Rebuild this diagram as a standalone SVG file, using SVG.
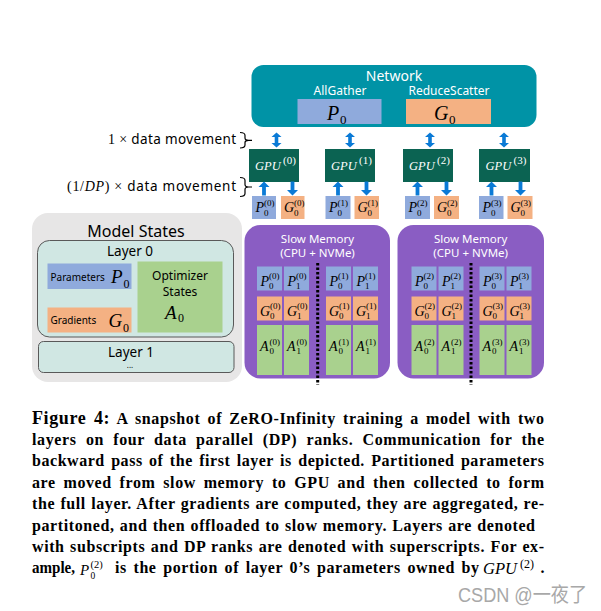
<svg xmlns="http://www.w3.org/2000/svg" xmlns:xlink="http://www.w3.org/1999/xlink" width="601" height="611" viewBox="0 0 601 611">
<style>
.sans{font-family:"Noto Sans","Open Sans",sans-serif}
.it{font-family:"Liberation Serif",serif;font-style:italic}
.ser{font-family:"Liberation Serif",serif}
.w{fill:#fff}
.pb{fill:#8FAADC}
.gs{fill:#F4B183}
.ga{fill:#A9D18E}
.gpu{fill:#0B6352}
.cl{font-size:14px}
.ss{font-size:9px}
.cap{font-family:"Liberation Serif",serif;font-weight:bold;font-size:16px;fill:#000}
.arr{fill:#0A7AD6}
.layer{fill:#D0E7E3;stroke:#595959;stroke-width:1}
.slow{fill:#8A5DC3}
.div{stroke:#000;stroke-width:3;stroke-dasharray:2.5 2}
</style>
<defs>
<path id="dbl" d="M0,-7.5 L5,-3 L1.8,-3 L1.8,3 L5,3 L0,7.5 L-5,3 L-1.8,3 L-1.8,-3 L-5,-3 Z"/>
<path id="up" d="M0,-7 L5.5,-1.5 L1.9,-1.5 L1.9,7 L-1.9,7 L-1.9,-1.5 L-5.5,-1.5 Z"/>
<path id="down" d="M0,7 L5.5,1.5 L1.9,1.5 L1.9,-7 L-1.9,-7 L-1.9,1.5 L-5.5,1.5 Z"/>
</defs>
<rect width="601" height="611" fill="#fff"/>

<g id="network">
<rect x="251.5" y="65" width="285" height="62" rx="12" fill="#0093A6"/>
<text class="sans w" x="394" y="81" font-size="14" text-anchor="middle">Network</text>
<text class="sans w" x="340" y="95" font-size="12" text-anchor="middle">AllGather</text>
<text class="sans w" x="449" y="95" font-size="12" text-anchor="middle">ReduceScatter</text>
<rect class="pb" x="297.5" y="99" width="84" height="25"/>
<rect class="gs" x="406" y="99" width="85" height="25"/>
<text class="it" x="327" y="120" font-size="20">P</text><text class="ser" x="340" y="124" font-size="13">0</text>
<text class="it" x="434" y="120" font-size="20">G</text><text class="ser" x="449" y="124" font-size="13">0</text>
</g>

<g id="gpu0">
<rect class="gpu" x="249" y="149" width="50" height="33"/>
<text class="it w" x="255" y="169.5" font-size="12.5">GPU</text><text class="ser w" x="283" y="164" font-size="11">(0)</text>
</g>
<g id="gpu1">
<rect class="gpu" x="325" y="149" width="50" height="33"/>
<text class="it w" x="331" y="169.5" font-size="12.5">GPU</text><text class="ser w" x="359" y="164" font-size="11">(1)</text>
</g>
<g id="gpu2">
<rect class="gpu" x="403" y="149" width="50" height="33"/>
<text class="it w" x="409" y="169.5" font-size="12.5">GPU</text><text class="ser w" x="437" y="164" font-size="11">(2)</text>
</g>
<g id="gpu3">
<rect class="gpu" x="479" y="149" width="51" height="33"/>
<text class="it w" x="485.5" y="169.5" font-size="12.5">GPU</text><text class="ser w" x="513.5" y="164" font-size="11">(3)</text>
</g>

<g id="gpu-shards">
<rect class="pb" x="252" y="196" width="24" height="23"/>
<text class="it cl" x="255.5" y="212">P</text><text class="ser ss" x="264" y="215.5">0</text><text class="ser ss" x="264" y="206">(0)</text>
<rect class="gs" x="281" y="196" width="23.5" height="23"/>
<text class="it cl" x="284" y="212">G</text><text class="ser ss" x="294" y="215.5">0</text><text class="ser ss" x="294" y="206">(0)</text>
<rect class="pb" x="325.5" y="196" width="25" height="23"/>
<text class="it cl" x="329" y="212">P</text><text class="ser ss" x="337.5" y="215.5">0</text><text class="ser ss" x="337.5" y="206">(1)</text>
<rect class="gs" x="354.5" y="196" width="24.5" height="23"/>
<text class="it cl" x="357.5" y="212">G</text><text class="ser ss" x="367.5" y="215.5">0</text><text class="ser ss" x="367.5" y="206">(1)</text>
<rect class="pb" x="405" y="196" width="25" height="23"/>
<text class="it cl" x="408.5" y="212">P</text><text class="ser ss" x="417" y="215.5">0</text><text class="ser ss" x="417" y="206">(2)</text>
<rect class="gs" x="434" y="196" width="25" height="23"/>
<text class="it cl" x="437" y="212">G</text><text class="ser ss" x="447" y="215.5">0</text><text class="ser ss" x="447" y="206">(2)</text>
<rect class="pb" x="479" y="196" width="24.5" height="23"/>
<text class="it cl" x="482.5" y="212">P</text><text class="ser ss" x="491" y="215.5">0</text><text class="ser ss" x="491" y="206">(3)</text>
<rect class="gs" x="507.5" y="196" width="25" height="23"/>
<text class="it cl" x="510.5" y="212">G</text><text class="ser ss" x="520.5" y="215.5">0</text><text class="ser ss" x="520.5" y="206">(3)</text>
</g>

<g id="model-states">
<rect x="32" y="213" width="210" height="169" rx="16" fill="#E7E6E6"/>
<text class="sans" x="136" y="237" font-size="16" text-anchor="middle">Model States</text>
<g id="layer0">
<rect class="layer" x="37.5" y="240.5" width="196" height="96.5" rx="12"/>
<text class="sans" x="130" y="256" font-size="13.5" text-anchor="middle">Layer 0</text>
<rect class="pb" x="47.5" y="263.5" width="84" height="25.5"/>
<text class="sans" x="50.5" y="281" font-size="10">Parameters</text>
<text class="it" x="111" y="283" font-size="19">P</text><text class="ser" x="123.5" y="288" font-size="12">0</text>
<rect class="gs" x="47.5" y="307.5" width="84" height="25"/>
<text class="sans" x="50.5" y="323.5" font-size="10">Gradients</text>
<text class="it" x="108.5" y="327" font-size="19">G</text><text class="ser" x="123" y="331.5" font-size="12">0</text>
<rect class="ga" x="137.5" y="261.5" width="85" height="71"/>
<text class="sans" x="180" y="280" font-size="12" text-anchor="middle">Optimizer</text>
<text class="sans" x="180" y="296" font-size="12" text-anchor="middle">States</text>
<text class="it" x="165" y="318.5" font-size="19">A</text><text class="ser" x="178" y="322" font-size="12">0</text>
</g>
<g id="layer1">
<rect class="layer" x="38.5" y="341.5" width="195.5" height="31" rx="5"/>
<text class="sans" x="131" y="356.5" font-size="13.5" text-anchor="middle">Layer 1</text>
<text class="sans" x="130" y="368" font-size="8" text-anchor="middle">...</text>
</g>
</g>

<g id="slow-memory-0-1">
<rect class="slow" x="244.5" y="225" width="145.5" height="153.5" rx="16"/>
<text class="sans w" x="317.5" y="242.5" font-size="11.5" text-anchor="middle">Slow Memory</text>
<text class="sans w" x="317.5" y="256.5" font-size="11.5" text-anchor="middle">(CPU + NVMe)</text>
<rect class="pb" x="257" y="266.5" width="25" height="24"/><rect class="pb" x="284" y="266.5" width="25" height="24"/>
<rect class="pb" x="326" y="266.5" width="25" height="24"/><rect class="pb" x="353" y="266.5" width="25" height="24"/>
<rect class="gs" x="257" y="296.5" width="25" height="24"/><rect class="gs" x="284" y="296.5" width="25" height="24"/>
<rect class="gs" x="326" y="296.5" width="25" height="24"/><rect class="gs" x="353" y="296.5" width="25" height="24"/>
<rect class="ga" x="257" y="325" width="25" height="50"/><rect class="ga" x="284" y="325" width="25" height="50"/>
<rect class="ga" x="326" y="325" width="25" height="50"/><rect class="ga" x="353" y="325" width="25" height="50"/>
<line class="div" x1="317.7" y1="263" x2="317.7" y2="385"/>
<text class="it cl" x="260.5" y="285.5">P</text><text class="ser ss" x="269" y="288.5">0</text><text class="ser ss" x="269" y="279">(0)</text>
<text class="it cl" x="287.5" y="285.5">P</text><text class="ser ss" x="296" y="288.5">1</text><text class="ser ss" x="296" y="279">(0)</text>
<text class="it cl" x="329.5" y="285.5">P</text><text class="ser ss" x="338" y="288.5">0</text><text class="ser ss" x="338" y="279">(1)</text>
<text class="it cl" x="356.5" y="285.5">P</text><text class="ser ss" x="365" y="288.5">1</text><text class="ser ss" x="365" y="279">(1)</text>
<text class="it cl" x="260" y="315.5">G</text><text class="ser ss" x="270" y="318.5">0</text><text class="ser ss" x="270" y="309">(0)</text>
<text class="it cl" x="287" y="315.5">G</text><text class="ser ss" x="297" y="318.5">1</text><text class="ser ss" x="297" y="309">(0)</text>
<text class="it cl" x="329" y="315.5">G</text><text class="ser ss" x="339" y="318.5">0</text><text class="ser ss" x="339" y="309">(1)</text>
<text class="it cl" x="356" y="315.5">G</text><text class="ser ss" x="366" y="318.5">1</text><text class="ser ss" x="366" y="309">(1)</text>
<text class="it cl" x="260" y="351">A</text><text class="ser ss" x="269.5" y="354">0</text><text class="ser ss" x="269.5" y="344.5">(0)</text>
<text class="it cl" x="287" y="351">A</text><text class="ser ss" x="296.5" y="354">1</text><text class="ser ss" x="296.5" y="344.5">(0)</text>
<text class="it cl" x="329" y="351">A</text><text class="ser ss" x="338.5" y="354">0</text><text class="ser ss" x="338.5" y="344.5">(1)</text>
<text class="it cl" x="356" y="351">A</text><text class="ser ss" x="365.5" y="354">1</text><text class="ser ss" x="365.5" y="344.5">(1)</text>
</g>

<g id="slow-memory-2-3">
<rect class="slow" x="397.5" y="225" width="146.5" height="153.5" rx="16"/>
<text class="sans w" x="470.7" y="242.5" font-size="11.5" text-anchor="middle">Slow Memory</text>
<text class="sans w" x="470.7" y="256.5" font-size="11.5" text-anchor="middle">(CPU + NVMe)</text>
<rect class="pb" x="411.5" y="266.5" width="25" height="24"/><rect class="pb" x="438.5" y="266.5" width="25" height="24"/>
<rect class="pb" x="479.5" y="266.5" width="25" height="24"/><rect class="pb" x="506.5" y="266.5" width="25" height="24"/>
<rect class="gs" x="411.5" y="296.5" width="25" height="24"/><rect class="gs" x="438.5" y="296.5" width="25" height="24"/>
<rect class="gs" x="479.5" y="296.5" width="25" height="24"/><rect class="gs" x="506.5" y="296.5" width="25" height="24"/>
<rect class="ga" x="411.5" y="325" width="25" height="50"/><rect class="ga" x="438.5" y="325" width="25" height="50"/>
<rect class="ga" x="479.5" y="325" width="25" height="50"/><rect class="ga" x="506.5" y="325" width="25" height="50"/>
<line class="div" x1="471" y1="263" x2="471" y2="385"/>
<text class="it cl" x="415" y="285.5">P</text><text class="ser ss" x="423.5" y="288.5">0</text><text class="ser ss" x="423.5" y="279">(2)</text>
<text class="it cl" x="442" y="285.5">P</text><text class="ser ss" x="450.5" y="288.5">1</text><text class="ser ss" x="450.5" y="279">(2)</text>
<text class="it cl" x="483" y="285.5">P</text><text class="ser ss" x="491.5" y="288.5">0</text><text class="ser ss" x="491.5" y="279">(3)</text>
<text class="it cl" x="510" y="285.5">P</text><text class="ser ss" x="518.5" y="288.5">1</text><text class="ser ss" x="518.5" y="279">(3)</text>
<text class="it cl" x="414.5" y="315.5">G</text><text class="ser ss" x="424.5" y="318.5">0</text><text class="ser ss" x="424.5" y="309">(2)</text>
<text class="it cl" x="441.5" y="315.5">G</text><text class="ser ss" x="451.5" y="318.5">1</text><text class="ser ss" x="451.5" y="309">(2)</text>
<text class="it cl" x="482.5" y="315.5">G</text><text class="ser ss" x="492.5" y="318.5">0</text><text class="ser ss" x="492.5" y="309">(3)</text>
<text class="it cl" x="509.5" y="315.5">G</text><text class="ser ss" x="519.5" y="318.5">1</text><text class="ser ss" x="519.5" y="309">(3)</text>
<text class="it cl" x="414.5" y="351">A</text><text class="ser ss" x="424" y="354">0</text><text class="ser ss" x="424" y="344.5">(2)</text>
<text class="it cl" x="441.5" y="351">A</text><text class="ser ss" x="451" y="354">1</text><text class="ser ss" x="451" y="344.5">(2)</text>
<text class="it cl" x="482.5" y="351">A</text><text class="ser ss" x="492" y="354">0</text><text class="ser ss" x="492" y="344.5">(3)</text>
<text class="it cl" x="509.5" y="351">A</text><text class="ser ss" x="519" y="354">1</text><text class="ser ss" x="519" y="344.5">(3)</text>
</g>

<g id="connectors" class="arr">
<use xlink:href="#dbl" x="276.5" y="140"/>
<use xlink:href="#dbl" x="350" y="140"/>
<use xlink:href="#dbl" x="430" y="140"/>
<use xlink:href="#dbl" x="504" y="140"/>
<use xlink:href="#up" x="264" y="188.5"/>
<use xlink:href="#up" x="338" y="188.5"/>
<use xlink:href="#up" x="417.5" y="188.5"/>
<use xlink:href="#up" x="491.5" y="188.5"/>
<use xlink:href="#down" x="292.5" y="188.5"/>
<use xlink:href="#down" x="366.5" y="188.5"/>
<use xlink:href="#down" x="446.5" y="188.5"/>
<use xlink:href="#down" x="520.5" y="188.5"/>
</g>

<g id="movement-labels">
<text x="108" y="143.5" textLength="128" lengthAdjust="spacing"><tspan class="ser" font-size="14">1 × </tspan><tspan class="sans" font-size="13.5">data movement</tspan></text>
<text x="67" y="191" textLength="169" lengthAdjust="spacing"><tspan class="ser" font-size="14">(1/</tspan><tspan class="it" font-size="14">DP</tspan><tspan class="ser" font-size="14">) × </tspan><tspan class="sans" font-size="13.5">data movement</tspan></text>
<path d="M240,132.5 Q245,132.5 245,135.5 L245,138 Q245,140.3 248.5,140.3 L252,140.3 M248.5,140.3 Q245,140.3 245,142.5 L245,145 Q245,148 240,148" fill="none" stroke="#000" stroke-width="1.2"/>
<path d="M240,177.5 Q245,177.5 245,180.5 L245,184.5 Q245,187 248.5,187 L252,187 M248.5,187 Q245,187 245,189.5 L245,193.5 Q245,196.5 240,196.5" fill="none" stroke="#000" stroke-width="1.2"/>
</g>

<g id="caption">
<text class="cap" x="32" y="423.5" word-spacing="2.6" textLength="512" lengthAdjust="spacing"><tspan font-size="18">Figure 4:</tspan> A snapshot of ZeRO-Infinity training a model with two</text>
<text class="cap" x="32" y="444.9" word-spacing="4.6" textLength="512" lengthAdjust="spacing">layers on four data parallel (DP) ranks. Communication for the</text>
<text class="cap" x="32" y="466.3" word-spacing="1.8" textLength="512" lengthAdjust="spacing">backward pass of the first layer is depicted. Partitioned parameters</text>
<text class="cap" x="32" y="487.7" word-spacing="3.2" textLength="512" lengthAdjust="spacing">are moved from slow memory to GPU and then collected to form</text>
<text class="cap" x="32" y="509.1" word-spacing="0.7" textLength="512" lengthAdjust="spacing">the full layer. After gradients are computed, they are aggregated, re-</text>
<text class="cap" x="32" y="530.5" word-spacing="0.7" textLength="503" lengthAdjust="spacing">partitoned, and then offloaded to slow memory. Layers are denoted</text>
<text class="cap" x="32" y="551.9" word-spacing="1" textLength="512" lengthAdjust="spacing">with subscripts and DP ranks are denoted with superscripts. For ex-</text>
<text class="cap" x="32" y="573.3" textLength="43" lengthAdjust="spacingAndGlyphs">ample,</text>
<text class="it" x="80" y="574.5" font-size="15">P</text>
<text class="ser" x="90.5" y="579" font-size="9.5">0</text>
<text class="ser" x="90.5" y="568" font-size="10.5">(2)</text>
<text class="cap" x="115" y="573.3" word-spacing="2.1" textLength="364" lengthAdjust="spacing">is the portion of layer 0’s parameters owned by</text>
<text class="it" x="483" y="574" font-size="16" textLength="34" lengthAdjust="spacingAndGlyphs">GPU</text>
<text class="ser" x="520" y="568" font-size="12">(2)</text>
<text class="cap" x="540.5" y="573.3">.</text>
</g>

<text x="458" y="601.5" font-size="20" fill="#A8A8A8" font-family="Liberation Sans, Noto Sans CJK SC, sans-serif" textLength="129" lengthAdjust="spacingAndGlyphs">CSDN @一夜了</text>
</svg>
